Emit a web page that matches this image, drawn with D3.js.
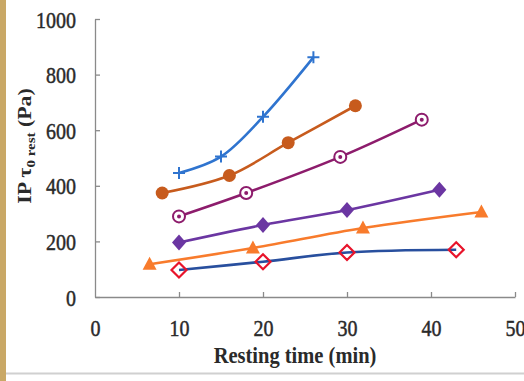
<!DOCTYPE html>
<html>
<head>
<meta charset="utf-8">
<script src="https://cdn.jsdelivr.net/npm/d3@7"></script>
<style>
  body { margin: 0; background: #fff; }
  svg text { font-family: "Liberation Serif", "DejaVu Serif", serif; fill: #2a2a2a; }
</style>
</head>
<body>
<div id="chart"></div>
<script>
// resting time (min) / IP tau0 rest (Pa)
const seriesBlue = [[10, 446], [15, 505], [20, 648], [26, 862]];
const seriesBrown = [[8, 374], [16, 437], [23, 555], [31, 688]];
const seriesMagenta = [[10, 290], [18, 374], [29.2, 504], [38.9, 638]];
const seriesPurple = [[10, 196], [20, 259], [30, 313], [41, 386]];
const seriesOrange = [[6.5, 118], [18.8, 176], [31.9, 248], [46, 306]];
const seriesNavy = [[10, 97], [20, 127], [30, 160], [43, 170]];

const xTicks = [0, 10, 20, 30, 40, 50];
const yTicks = [0, 200, 400, 600, 800, 1000];

const width = 524, height = 381;
const margin = { top: 19, right: 9, bottom: 84, left: 95 };

const x = d3.scaleLinear().domain([0, 50]).range([margin.left, width - margin.right]);
const y = d3.scaleLinear().domain([0, 1000]).range([height - margin.bottom, margin.top]);

const svg = d3.select("#chart").append("svg")
    .attr("width", width)
    .attr("height", height);

// page frame bits
svg.append("rect").attr("x", 0).attr("y", 0).attr("width", 6).attr("height", height).attr("fill", "#c9a866");
svg.append("line").attr("x1", 6).attr("x2", width).attr("y1", 373.5).attr("y2", 373.5)
    .attr("stroke", "#d0d0d0").attr("stroke-width", 2);

// axes
const xAxis = svg.append("g")
    .attr("transform", `translate(0,${y(0)})`)
    .call(d3.axisBottom(x).tickValues(xTicks).tickFormat(d3.format("d")).tickSizeInner(-5).tickSizeOuter(0));
const yAxis = svg.append("g")
    .attr("transform", `translate(${x(0)},0)`)
    .call(d3.axisLeft(y).tickValues(yTicks).tickFormat(d3.format("d")).tickSizeInner(-5).tickSizeOuter(0));

[xAxis, yAxis].forEach(g => {
    g.select(".domain").attr("stroke", "#8a8a8a").attr("stroke-width", 1.3);
    g.selectAll(".tick line").attr("stroke", "#8a8a8a").attr("stroke-width", 1.3);
    g.selectAll(".tick text")
        .attr("font-size", "20px")
        .attr("font-family", "Liberation Serif, serif")
        .attr("fill", "#2a2a2a")
        .attr("stroke", "#2a2a2a")
        .attr("stroke-width", 0.4)
        .attr("x", 0).attr("y", 0).attr("dy", 0);
});
xAxis.selectAll(".tick text").attr("transform", "translate(0,39) scale(1,1.2)");
yAxis.selectAll(".tick text").attr("transform", "translate(-19,8) scale(1,1.2)");
xAxis.select(".tick line").remove();

// axis titles
svg.append("text")
    .attr("transform", "translate(295,363) scale(1,1.15)")
    .attr("text-anchor", "middle")
    .attr("font-size", "20.5px")
    .attr("font-weight", "bold")
    .text("Resting time (min)");

const yTitle = svg.append("text")
    .attr("transform", "translate(31,146) rotate(-90) scale(1.15,1)")
    .attr("text-anchor", "middle")
    .attr("font-size", "19px")
    .attr("font-weight", "bold");
yTitle.append("tspan").text("IP τ");
yTitle.append("tspan").attr("font-size", "13px").attr("dy", 4).text("0 rest");
yTitle.append("tspan").attr("dy", -4).text(" (Pa)");

const line = d3.line()
    .x(d => x(d[0]))
    .y(d => y(d[1]))
    .curve(d3.curveCatmullRom.alpha(0.5));

const series = [
    { data: seriesBlue, color: "#2f74cf", marker: "plus" },
    { data: seriesBrown, color: "#c75b1d", marker: "dot" },
    { data: seriesMagenta, color: "#8d1c6c", marker: "ring" },
    { data: seriesPurple, color: "#6b36a2", marker: "diamond" },
    { data: seriesOrange, color: "#f87b2c", marker: "triangle" },
    { data: seriesNavy, color: "#284f9e", marker: "redDiamond" }
];

series.forEach(s => {
    svg.append("path")
        .datum(s.data)
        .attr("fill", "none")
        .attr("stroke", s.color)
        .attr("stroke-width", 2.6)
        .attr("d", line);

    const g = svg.append("g");
    const pts = g.selectAll("g")
        .data(s.data)
        .enter()
        .append("g")
        .attr("transform", d => `translate(${x(d[0])},${y(d[1])})`);

    if (s.marker === "plus") {
        pts.append("path").attr("d", "M-6,0H6M0,-6V6")
            .attr("stroke", s.color).attr("stroke-width", 2);
    } else if (s.marker === "dot") {
        pts.append("circle").attr("r", 6.5).attr("fill", s.color);
    } else if (s.marker === "ring") {
        pts.append("circle").attr("r", 6).attr("fill", "#fff")
            .attr("stroke", s.color).attr("stroke-width", 2);
        pts.append("circle").attr("r", 2).attr("fill", s.color);
    } else if (s.marker === "diamond") {
        pts.append("path").attr("d", "M0,-8L7,0L0,8L-7,0Z").attr("fill", s.color);
    } else if (s.marker === "triangle") {
        pts.append("path").attr("d", "M0,-7.5L7,5.5L-7,5.5Z").attr("fill", s.color);
    } else {
        pts.append("path").attr("d", "M0,-7.5L7.5,0L0,7.5L-7.5,0Z")
            .attr("fill", "none").attr("stroke", "#e8142b").attr("stroke-width", 2.2);
    }
});
</script>
</body>
</html>
